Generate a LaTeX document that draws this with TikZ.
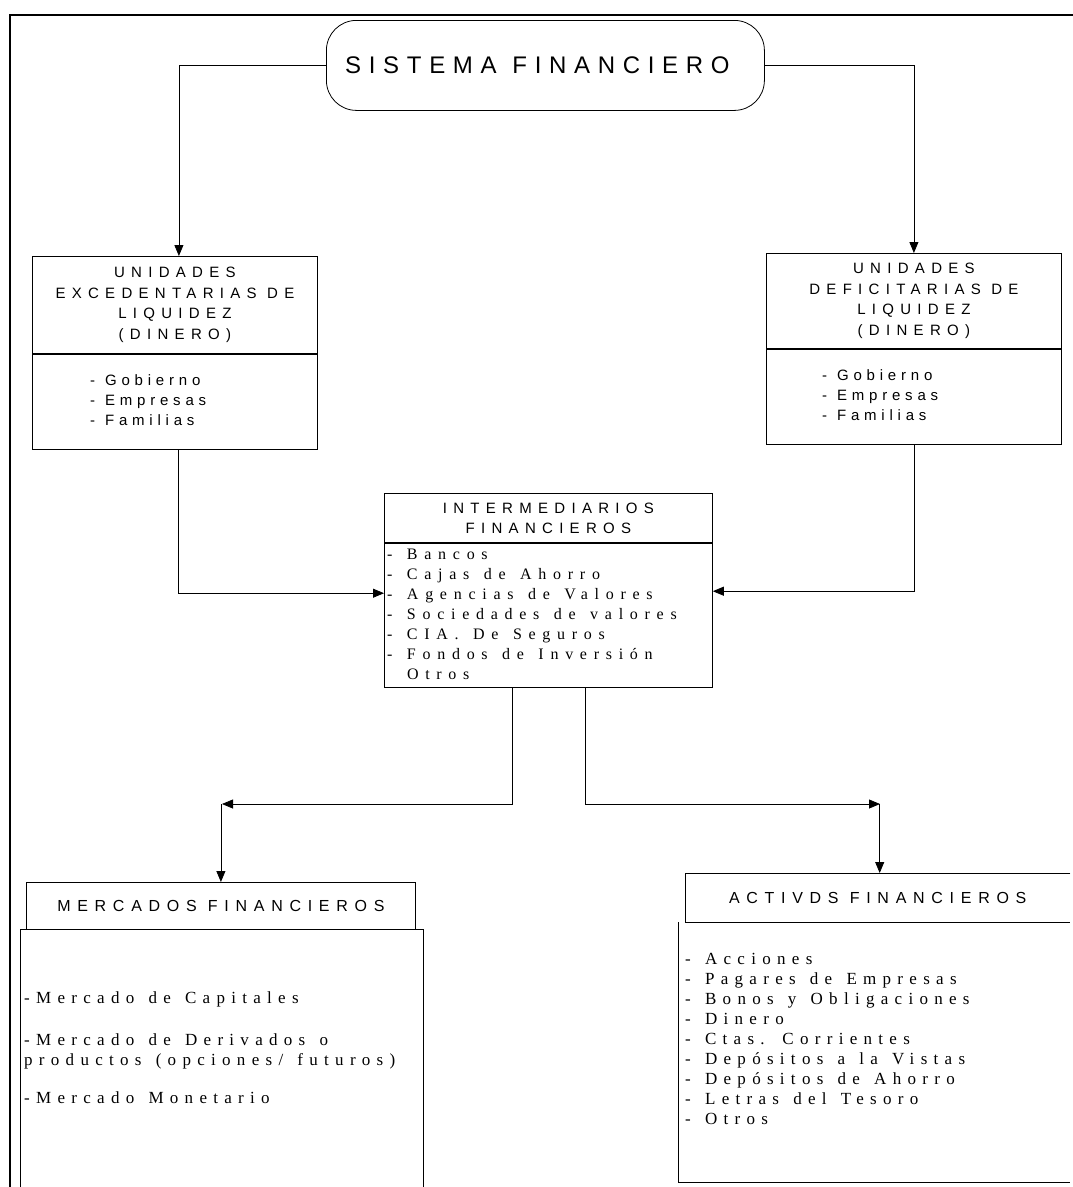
\documentclass[tikz,border=0pt]{standalone}
\usepackage{fontspec}
\usetikzlibrary{arrows.meta,calc}
\newfontfamily\bigcaps[LetterSpace=32]{Liberation Sans}
\newfontfamily\boxcaps[LetterSpace=42]{Liberation Sans}
\newfontfamily\boxitems[LetterSpace=32,WordSpace={1.1,1,0}]{Liberation Sans}
\newfontfamily\serifitems[LetterSpace=37,WordSpace={1.35,1,0}]{Liberation Serif}
\newfontfamily\serifwide[LetterSpace=42,WordSpace={1.35,1,0}]{Liberation Serif}
\tikzset{
	box/.style={draw, line width=0.8pt, rectangle, inner sep=0pt, anchor=north west},
	openbox/.style={rectangle, inner sep=0pt, anchor=north west},
	arr/.style={line width=0.8pt, -{Triangle[length=11pt,width=9pt]}},
	side/.style={line width=0.8pt},
	captitle/.style={align=center, font={\fontsize{15}{20.5}\boxcaps}},
	sanslist/.style={anchor=west, inner sep=0pt, align=left, font={\fontsize{15}{20}\boxitems}},
	seriflist/.style={anchor=north west, inner sep=0pt, align=left, font={\fontsize{17}{20}\serifitems}}
}

\begin{document}
\begin{tikzpicture}[x=1pt,y=-1pt]
			%%%%% START %%%%%
			\useasboundingbox (0,0) rectangle (1073,1187);
			
			\draw[line width=2.2pt] (1073,15) -- (10,15) -- (10,1187);
			
			\node[draw, line width=0.8pt, rounded corners=30pt, minimum width=438pt, minimum height=90pt, anchor=north west, inner sep=0pt, font={\fontsize{24}{28}\bigcaps}] (sis) at (326,20) {SISTEMA FINANCIERO\hspace*{16pt}};
			
			% unidades excedentarias
			\node[box, captitle, minimum width=285pt, minimum height=97pt] (exch) at (32,256) {UNIDADES\\EXCEDENTARIAS DE\\LIQUIDEZ\\(DINERO)};
			\node[box, minimum width=285pt, minimum height=95pt] (excb) at (exch.south west) {};
			\node[sanslist] (excl) at (90,400) {- Gobierno\\- Empresas\\- Familias};
			
			% unidades deficitarias
			\node[box, captitle, minimum width=295pt, minimum height=95pt] (defh) at (766,253) {UNIDADES\\DEFICITARIAS DE\\LIQUIDEZ\\(DINERO)};
			\node[box, minimum width=295pt, minimum height=95pt] (defb) at (defh.south west) {};
			\node[sanslist] (defl) at (822,395) {- Gobierno\\- Empresas\\- Familias};
			
			% intermediarios
			\node[box, captitle, font={\fontsize{15}{20}\boxcaps}, minimum width=328pt, minimum height=49pt] (inth) at (384,493) {INTERMEDIARIOS\\FINANCIEROS};
			\node[box, minimum width=328pt, minimum height=144pt] (intb) at (inth.south west) {};
			\node[sanslist, font={\fontsize{16}{20}\serifwide}] (intl) at (387,614) {- Bancos\\- Cajas de Ahorro\\- Agencias de Valores\\- Sociedades de valores\\- CIA. De Seguros\\- Fondos de Inversión\\\phantom{-} Otros};
			
			% mercados
			\node[box, font={\fontsize{16}{20}\boxcaps}, minimum width=389pt, minimum height=47pt] (mkth) at (26,882) {MERCADOS FINANCIEROS};
			\node[openbox, minimum width=403pt, minimum height=258pt] (mktb) at (20,929) {};
			\draw[side] (mktb.south west) -- (mktb.north west) -- (mktb.north east) -- (mktb.south east);
			\node[seriflist] (mktl) at (24,991) {-Mercado de Capitales\\[22pt]-Mercado de Derivados o\\productos (opciones/ futuros)\\[18pt]-Mercado Monetario};
			
			% activos
			\node[openbox, font={\fontsize{16}{20}\boxcaps}, minimum width=385pt, minimum height=49pt] (acth) at (685,873) {ACTIVDS FINANCIEROS};
			\draw[side] (acth.north east) -- (acth.north west) -- (acth.south west) -- (acth.south east);
			\node[openbox, minimum width=392pt, minimum height=260pt] (actb) at (678,922) {};
			\draw[side] (actb.north west) -- (actb.south west) -- (actb.south east);
			\node[seriflist] (actl) at (685,953) {- Acciones\\- Pagares de Empresas\\- Bonos y Obligaciones\\- Dinero\\- Ctas. Corrientes\\- Depósitos a la Vistas\\- Depósitos de Ahorro\\- Letras del Tesoro\\- Otros};
			
			% arrows
			\coordinate (mkttip) at (222,804);
			\coordinate (acttip) at (880,804);
			\draw[arr] (sis.west) -| ([xshift=4pt]exch.north);
			\draw[arr] (sis.east) -| (defh.north);
			\draw[arr] ([xshift=3pt]excb.south) |- ([yshift=22pt]intb.west);
			\draw[arr] (defb.south) |- ([yshift=24pt]intb.east);
			\draw[arr] ([xshift=-36pt]intb.south) |- (mkttip);
			\draw[arr] (mkth.north |- mkttip) -- (mkth.north);
			\draw[arr] ([xshift=37pt]intb.south) |- (acttip);
			\draw[arr] ([xshift=2pt]acth.north |- acttip) -- ([xshift=2pt]acth.north);
			
			%%%%% END %%%%%
\end{tikzpicture}
\end{document}
